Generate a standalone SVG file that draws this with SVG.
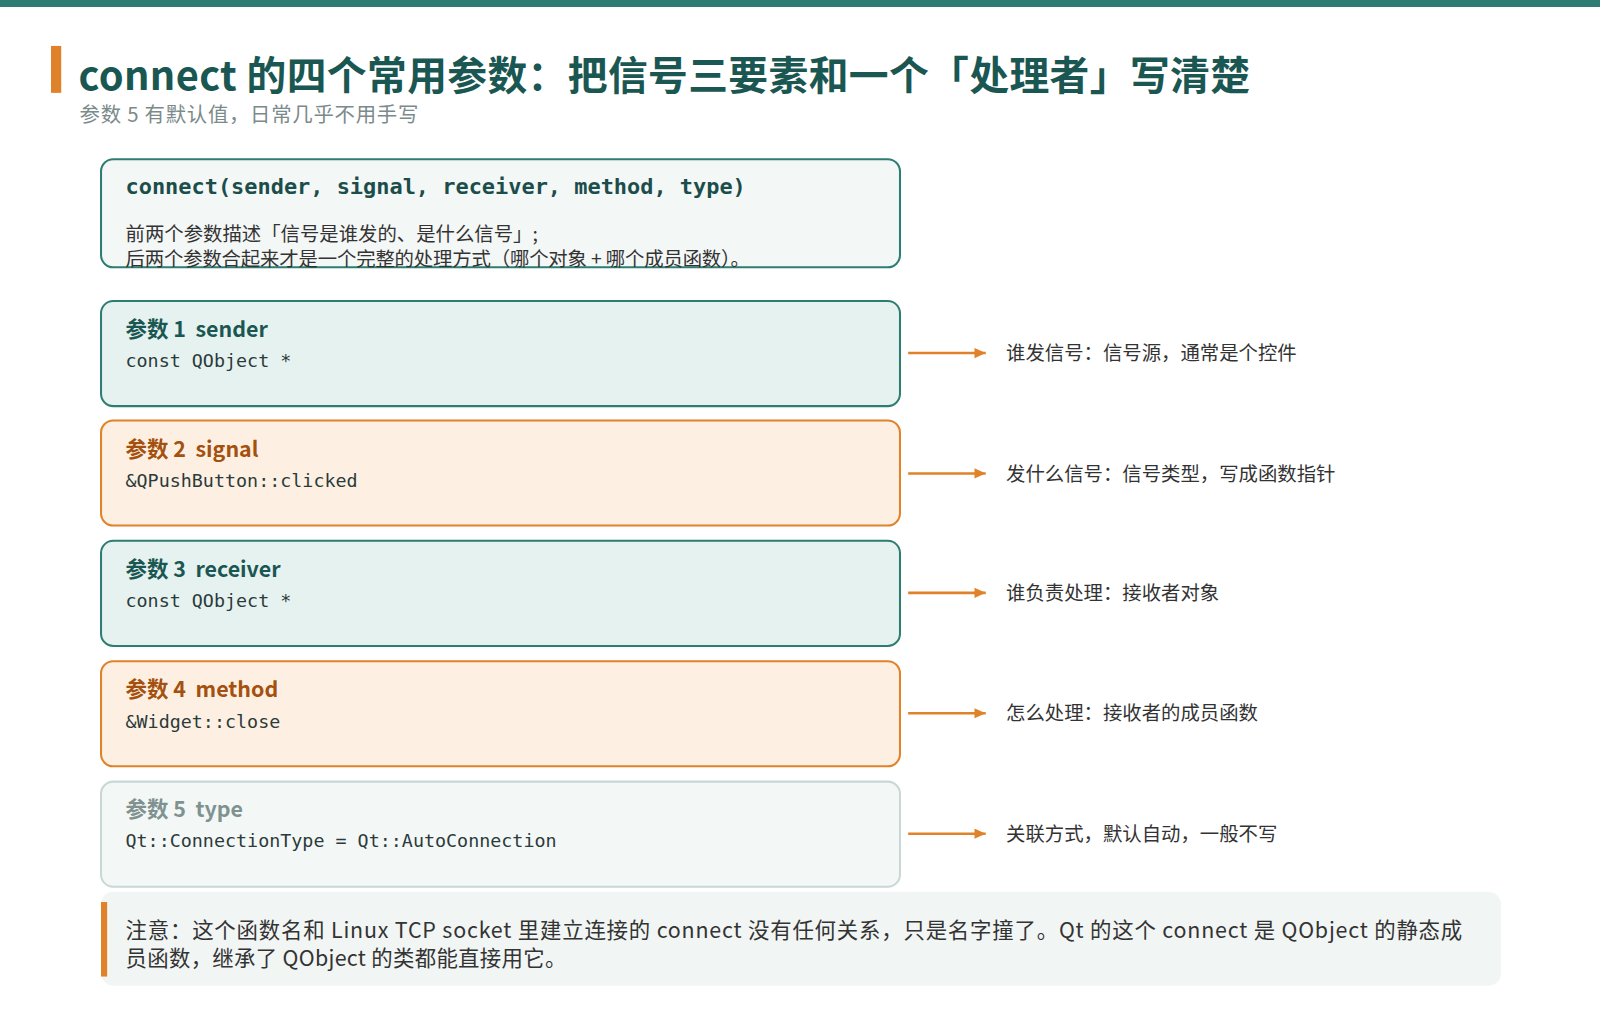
<svg xmlns="http://www.w3.org/2000/svg" width="1600" height="1010" viewBox="0 0 1600 1010">
<style>
.cjk{font-family:"Noto Sans CJK SC","Noto Sans",sans-serif}
.mono{font-family:"DejaVu Sans Mono","Liberation Mono",monospace}
.h{font-family:"Noto Sans CJK SC",sans-serif;font-size:21px;font-weight:bold}
.code{font-family:"DejaVu Sans Mono",monospace;font-size:18px;fill:#2b3a3a}
.desc{font-family:"Noto Sans CJK SC",sans-serif;font-size:19px;fill:#333}
.conn{stroke:#e0822a;stroke-width:2.5;fill:none}
</style>
<defs><marker id="ah" markerWidth="12" markerHeight="12" refX="11" refY="5" orient="auto" markerUnits="userSpaceOnUse"><path d="M0,0L11,5L0,10z" fill="#e0822a"/></marker></defs>
<rect x="0" y="0" width="1600" height="7" fill="#2e7d72"/>
<g transform="scale(1.0204)">
<rect x="50" y="45" width="10" height="46" fill="#e0822a"/>
<text x="77" y="88" class="cjk" font-size="39" font-weight="bold" fill="#1b5752" textLength="1148" lengthAdjust="spacing">connect 的四个常用参数：把信号三要素和一个「处理者」写清楚</text>
<text x="78" y="120" class="cjk" font-size="20" fill="#7b8a8a" textLength="332" lengthAdjust="spacing">参数 5 有默认值，日常几乎不用手写</text>
<g id="overview">
<rect x="99" y="156" width="783" height="106" rx="12" fill="#f3f7f6" stroke="#2e7d72" stroke-width="2"/>
<text x="123" y="190" class="mono" font-size="21.5" font-weight="bold" fill="#1b4d4a">connect(sender, signal, receiver, method, type)</text>
<text x="123" y="236" class="desc" font-size="18">前两个参数描述「信号是谁发的、是什么信号」;</text>
<text x="123" y="261" class="desc" font-size="18" textLength="612" lengthAdjust="spacing">后两个参数合起来才是一个完整的处理方式（哪个对象 + 哪个成员函数）。</text>
</g>
<g id="p1"><rect x="99" y="295" width="783" height="103" rx="12" fill="#e6f2f0" stroke="#2e7d72" stroke-width="2"/>
<text x="123" y="330" class="h" fill="#1b5752" xml:space="preserve">参数 1  sender</text><text x="123" y="360" class="code">const QObject *</text></g>
<g id="p2"><rect x="99" y="412" width="783" height="103" rx="12" fill="#fdf0e2" stroke="#e0822a" stroke-width="2"/>
<text x="123" y="448" class="h" fill="#a4500f" xml:space="preserve">参数 2  signal</text><text x="123" y="477" class="code">&amp;QPushButton::clicked</text></g>
<g id="p3"><rect x="99" y="530" width="783" height="103" rx="12" fill="#e6f2f0" stroke="#2e7d72" stroke-width="2"/>
<text x="123" y="565" class="h" fill="#1b5752" xml:space="preserve">参数 3  receiver</text><text x="123" y="595" class="code">const QObject *</text></g>
<g id="p4"><rect x="99" y="648" width="783" height="103" rx="12" fill="#fdf0e2" stroke="#e0822a" stroke-width="2"/>
<text x="123" y="683" class="h" fill="#a4500f" xml:space="preserve">参数 4  method</text><text x="123" y="713" class="code">&amp;Widget::close</text></g>
<g id="p5"><rect x="99" y="766" width="783" height="103" rx="12" fill="#f3f7f6" stroke="#c8d8d6" stroke-width="2"/>
<text x="123" y="801" class="h" fill="#7f9290" xml:space="preserve">参数 5  type</text><text x="123" y="830" class="code">Qt::ConnectionType = Qt::AutoConnection</text></g>
<g id="connectors">
<path class="conn" d="M890,346H966" marker-end="url(#ah)"/>
<path class="conn" d="M890,464H966" marker-end="url(#ah)"/>
<path class="conn" d="M890,581H966" marker-end="url(#ah)"/>
<path class="conn" d="M890,699H966" marker-end="url(#ah)"/>
<path class="conn" d="M890,817H966" marker-end="url(#ah)"/>
</g>
<text x="986" y="353" class="desc">谁发信号：信号源，通常是个控件</text>
<text x="986" y="471" class="desc">发什么信号：信号类型，写成函数指针</text>
<text x="986" y="588" class="desc">谁负责处理：接收者对象</text>
<text x="986" y="706" class="desc">怎么处理：接收者的成员函数</text>
<text x="986" y="824" class="desc">关联方式，默认自动，一般不写</text>
<g id="note">
<rect x="99" y="874" width="1372" height="92" rx="12" fill="#f1f5f4"/>
<rect x="99" y="884" width="6" height="73" fill="#e0822a"/>
<text x="123" y="919" class="cjk" font-size="21" fill="#333" textLength="1310" lengthAdjust="spacing">注意：这个函数名和 Linux TCP socket 里建立连接的 connect 没有任何关系，只是名字撞了。Qt 的这个 connect 是 QObject 的静态成</text>
<text x="123" y="947" class="cjk" font-size="21" fill="#333" textLength="432" lengthAdjust="spacing">员函数，继承了 QObject 的类都能直接用它。</text>
</g>
</g>
</svg>
